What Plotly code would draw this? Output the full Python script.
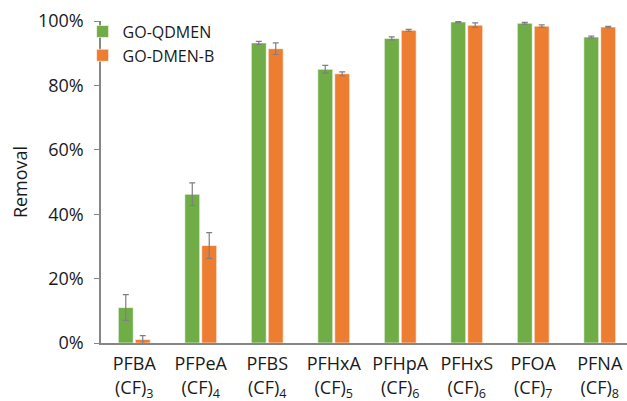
import plotly.graph_objects as go

categories = ["PFBA<br>(CF)<sub>3</sub>", "PFPeA<br>(CF)<sub>4</sub>", "PFBS<br>(CF)<sub>4</sub>",
              "PFHxA<br>(CF)<sub>5</sub>", "PFHpA<br>(CF)<sub>6</sub>", "PFHxS<br>(CF)<sub>6</sub>",
              "PFOA<br>(CF)<sub>7</sub>", "PFNA<br>(CF)<sub>8</sub>"]
qdmen = [11.0, 46.2, 93.2, 85.0, 94.6, 99.7, 99.3, 95.0]
qdmen_err = [4.0, 3.5, 0.5, 1.2, 0.5, 0.2, 0.3, 0.3]
dmenb = [1.1, 30.3, 91.4, 83.6, 97.1, 98.7, 98.4, 98.1]
dmenb_err = [1.2, 4.0, 1.8, 0.6, 0.3, 0.7, 0.4, 0.2]
yticks = [0, 20, 40, 60, 80, 100]
ytick_labels = ["0%", "20%", "40%", "60%", "80%", "100%"]

x = list(range(len(categories)))
font = "Open Sans, Liberation Sans, sans-serif"
txt = "#1a1a1a"

fig = go.Figure()
fig.add_trace(go.Bar(
    x=x, y=qdmen, name="GO-QDMEN",
    marker=dict(color="#70AD47", line=dict(color="rgba(255,255,255,0.6)", width=1)),
    error_y=dict(type="data", array=qdmen_err, color="#7F7F7F", thickness=1.2, width=3),
))
fig.add_trace(go.Bar(
    x=x, y=dmenb, name="GO-DMEN-B",
    marker=dict(color="#ED7D31", line=dict(color="rgba(255,255,255,0.6)", width=1)),
    error_y=dict(type="data", array=dmenb_err, color="#7F7F7F", thickness=1.2, width=3),
))

fig.update_layout(
    width=627, height=401,
    margin=dict(l=101, r=0, t=21, b=58),
    paper_bgcolor="white", plot_bgcolor="white",
    barmode="group", bargap=0.49, bargroupgap=0.12,
    font=dict(family=font, size=16, color=txt),
    legend=dict(x=-0.035, y=1.02, xanchor="left", yanchor="top",
                bgcolor="rgba(0,0,0,0)", font=dict(size=16, color=txt),
                itemwidth=30, tracegroupgap=0),
    xaxis=dict(
        tickmode="array", tickvals=x, ticktext=categories,
        range=[-0.5, 7.41], showline=True, linecolor="#868686", linewidth=1.5,
        ticks="", showgrid=False, zeroline=False, automargin=False,
        ticklabelstandoff=4,
        tickfont=dict(size=18, family=font, color=txt),
    ),
    yaxis=dict(
        tickmode="array", tickvals=yticks, ticktext=ytick_labels,
        range=[0, 100], showline=True, linecolor="#868686", linewidth=1.5,
        ticks="outside", ticklen=5, tickcolor="#868686", showgrid=False, zeroline=False,
        automargin=False, ticklabelstandoff=7,
        tickfont=dict(size=18, family=font, color=txt),
        title=dict(text="Removal", font=dict(size=18, family=font, color=txt), standoff=6),
    ),
)

fig.write_html("out.html", config={"displayModeBar": False},
               post_script="document.body.style.margin='0';document.body.style.overflow='hidden';")
